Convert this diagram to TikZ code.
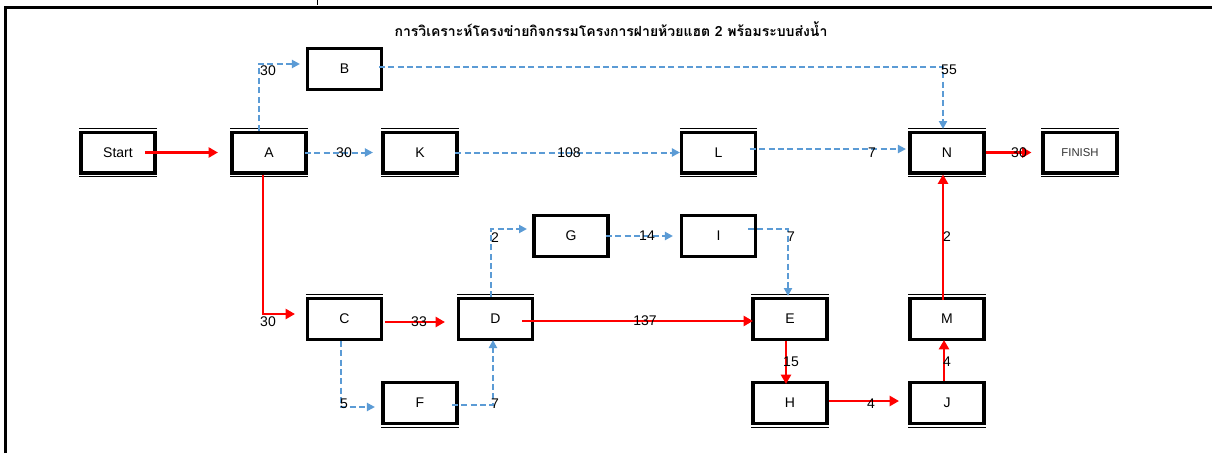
\documentclass[tikz,border=0pt]{standalone}
\usepackage{fontspec}
\setmainfont{Liberation Sans}
\newfontfamily\thaifont[Script=Thai]{Loma}
\usetikzlibrary{arrows.meta}
\definecolor{xblue}{RGB}{91,155,213}
\definecolor{xred}{RGB}{255,0,0}
\newcommand\boxtopline[1]{\draw[thinln] ([yshift=1.8pt]#1.north west) -- ([yshift=1.8pt]#1.north east);}
\newcommand\boxbotline[1]{\draw[thinln] ([yshift=-1.8pt]#1.south west) -- ([yshift=-1.8pt]#1.south east);}
\begin{document}
\begin{tikzpicture}[x=0.75pt,y=-0.75pt,
 box/.style={draw=black,line width=2.3pt,minimum width=55.5pt,minimum height=30.7pt,inner sep=0pt,font=\fontsize{10.5}{12}\selectfont},
 thinln/.style={line width=0.7pt},
 crit/.style={draw=xred,line width=2.2pt,-{Triangle[length=7pt,width=7.5pt]}},
 dep/.style={draw=xblue,line width=1.5pt,dash pattern=on 4.5pt off 2.5pt,-{Triangle[length=6pt,width=6pt]}},
 lbl/.style={inner sep=0pt,font=\fontsize{10.5}{12}\selectfont}]
\useasboundingbox (0,0) rectangle (1212,453);
% frame
\draw[line width=2.25pt,line join=miter] (5,453) -- (5,8) -- (1212,8);
\draw[line width=0.6pt] (317,0) -- (317,5);
\node[font=\thaifont\bfseries\fontsize{10.5}{12}\selectfont] (title) at (611,29) {การวิเคราะห์โครงข่ายกิจกรรมโครงการฝายห้วยแฮต 2 พร้อมระบบส่งน้ำ};
% boxes
\node[box] (Start) at (118,152.5) {Start};
\node[box] (A) at (269,152.5) {A};
\node[box] (B) at (344.5,69) {B};
\node[box] (K) at (420,152.5) {K};
\node[box] (L) at (718.5,152.5) {L};
\node[box] (N) at (947,152.5) {N};
\node[box,font=\fontsize{8.5}{10}\selectfont,text=black!80] (FIN) at (1080,152.5) {FINISH};
\node[box] (G) at (571,236) {G};
\node[box] (I) at (718.5,236) {I};
\node[box] (C) at (344.5,319) {C};
\node[box] (D) at (495.5,319) {D};
\node[box] (E) at (790,319) {E};
\node[box] (M) at (947,319) {M};
\node[box] (F) at (420,403) {F};
\node[box] (H) at (790,403) {H};
\node[box] (J) at (947,403) {J};
% double rules
\boxtopline{Start}\boxbotline{Start}
\boxtopline{A}\boxbotline{A}
\boxtopline{K}\boxbotline{K}
\boxtopline{L}\boxbotline{L}
\boxtopline{N}\boxbotline{N}
\boxtopline{FIN}\boxbotline{FIN}
\boxtopline{C}\boxtopline{D}\boxtopline{E}\boxtopline{M}
\boxbotline{F}\boxbotline{H}\boxbotline{J}
% critical (red) connectors
\draw[crit,shorten <=-8.6pt,shorten >=9.4pt] (Start.east) -- (A.west);
\draw[crit] ([xshift=-4.5pt]A.south) |- ([xshift=-8.25pt,yshift=3.75pt]C.west);
\draw[crit,shorten <=1.5pt,shorten >=9pt] ([yshift=-2.25pt]C.east) -- ([yshift=-2.25pt]D.west);
\draw[crit,shorten <=-9pt,shorten >=-1.1pt] ([yshift=-1.5pt]D.east) -- ([yshift=-1.5pt]E.west);
\draw[crit,shorten >=-2.25pt] ([xshift=-3pt]E.south) -- ([xshift=-3pt]H.north);
\draw[crit,shorten >=7.1pt] ([yshift=1.5pt]H.east) -- ([yshift=1.5pt]J.west);
\draw[crit,shorten >=-0.75pt] ([xshift=-2.25pt]J.north) -- ([xshift=-2.25pt]M.south);
\draw[crit,shorten <=-2.25pt] ([xshift=-3pt]M.north) -- ([xshift=-3pt]N.south);
\draw[crit,shorten >=7.5pt] (N.east) -- (FIN.west);
% dependency (blue dashed) connectors
\draw[dep] ([xshift=-7.5pt]A.north) |- ([xshift=-4.5pt,yshift=3.75pt]B.west);
\draw[dep,shorten <=-1.9pt,shorten >=6.4pt] (A.east) -- (K.west);
\draw[dep] ([xshift=-3pt,yshift=1.5pt]B.east) -| ([xshift=-3pt,yshift=1.1pt]N.north);
\draw[dep,shorten <=-2.5pt] (K.east) -- (L.west);
\draw[dep,shorten <=-5.3pt,shorten >=1.9pt] ([yshift=2.6pt]L.east) -- ([yshift=2.6pt]N.west);
\draw[dep] ([xshift=-3.4pt]D.north) |- ([xshift=-4.1pt,yshift=5.25pt]G.west);
\draw[dep,shorten <=-2.6pt,shorten >=5.25pt] (G.east) -- (I.west);
\draw[dep] ([xshift=-6.75pt,yshift=5.25pt]I.east) -| ([xshift=-1.5pt,yshift=0.75pt]E.north);
\draw[dep] ([xshift=-2.6pt]C.south) |- ([xshift=-4.9pt,yshift=-3pt]F.west);
\draw[dep] ([xshift=-4.9pt,yshift=-1.5pt]F.east) -| ([xshift=-1.9pt,yshift=0.75pt]D.south);
% labels
\node[lbl] (l1) at (268,71) {30};
\node[lbl] (l2) at (344,153) {30};
\node[lbl] (l3) at (949,70) {55};
\node[lbl] (l4) at (569,153) {108};
\node[lbl] (l5) at (872,153) {7};
\node[lbl] (l6) at (1019,153) {30};
\node[lbl] (l7) at (268,322) {30};
\node[lbl] (l8) at (419,322) {33};
\node[lbl] (l9) at (645,321) {137};
\node[lbl] (l10) at (495,238) {2};
\node[lbl] (l11) at (647,236) {14};
\node[lbl] (l12) at (791,237) {7};
\node[lbl] (l13) at (344,404) {5};
\node[lbl] (l14) at (495,404) {7};
\node[lbl] (l15) at (791,362) {15};
\node[lbl] (l16) at (871,404) {4};
\node[lbl] (l17) at (947,362) {4};
\node[lbl] (l18) at (947,237) {2};
\end{tikzpicture}
\end{document}
